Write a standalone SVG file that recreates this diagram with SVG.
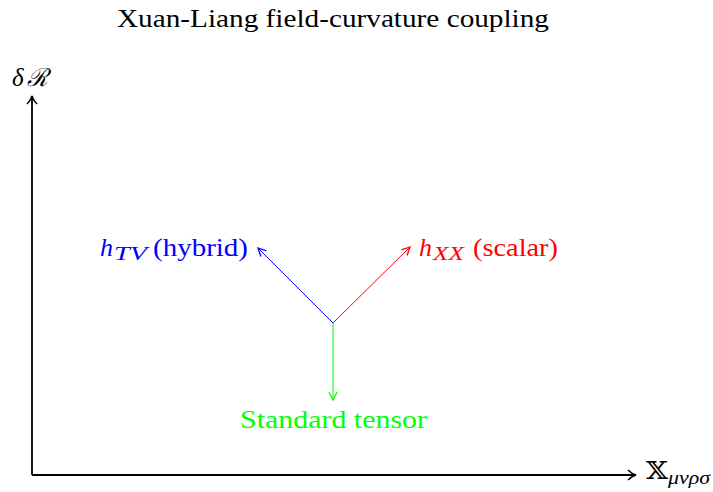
<svg xmlns="http://www.w3.org/2000/svg" width="713" height="492" viewBox="0 0 713 492">
<style>
text{font-family:"Liberation Serif","DejaVu Serif",serif;font-size:25px}
.it{font-style:italic}
.sub{font-style:italic;font-size:18px}
.ax{stroke:#000;stroke-width:1.8;fill:none}
</style>
<defs>
<marker id="ah" viewBox="0 0 10 10" refX="9" refY="5" markerWidth="10" markerHeight="10" markerUnits="userSpaceOnUse" orient="auto">
<path d="M1,1 L9,5 L1,9" fill="none" stroke="context-stroke" stroke-width="1.3"/>
</marker>
<marker id="axh" viewBox="0 0 12 12" refX="10" refY="6" markerWidth="12" markerHeight="12" markerUnits="userSpaceOnUse" orient="auto">
<path d="M2,1 Q6,5 10,6 Q6,7 2,11" fill="none" stroke="#000" stroke-width="1.6"/>
</marker>
</defs>
<text x="117" y="27" textLength="432" lengthAdjust="spacingAndGlyphs">Xuan-Liang field-curvature coupling</text>
<g id="axes">
<path class="ax" d="M32,475 L32,96" marker-end="url(#axh)"/>
<path class="ax" d="M32,475 L636,475" marker-end="url(#axh)"/>
<text x="12" y="86" class="it">δ</text>
<text x="27" y="86" class="it" textLength="21" lengthAdjust="spacingAndGlyphs">ℛ</text>
<text x="646" y="479" textLength="22" lengthAdjust="spacingAndGlyphs">𝕏</text>
<text x="668" y="484" class="sub" textLength="42" lengthAdjust="spacingAndGlyphs">μνρσ</text>
</g>
<g id="connectors" fill="none" stroke-width="1">
<line x1="333" y1="323" x2="258" y2="248" stroke="#00f" marker-end="url(#ah)"/>
<line x1="333" y1="323" x2="410" y2="247" stroke="#f00" marker-end="url(#ah)"/>
<line x1="333" y1="323" x2="333" y2="400" stroke="#0f0" marker-end="url(#ah)"/>
</g>
<g id="hybrid" fill="#00f">
<text x="100" y="256" class="it" textLength="13" lengthAdjust="spacingAndGlyphs">h</text>
<text x="114" y="260" class="sub" textLength="33" lengthAdjust="spacingAndGlyphs">TV</text>
<text x="153" y="256" textLength="95" lengthAdjust="spacingAndGlyphs">(hybrid)</text>
</g>
<g id="scalar" fill="#f00">
<text x="419" y="256" class="it" textLength="13" lengthAdjust="spacingAndGlyphs">h</text>
<text x="433" y="260" class="sub" textLength="31" lengthAdjust="spacingAndGlyphs">XX</text>
<text x="473" y="256" textLength="85" lengthAdjust="spacingAndGlyphs">(scalar)</text>
</g>
<g id="tensor" fill="#0f0">
<text x="240" y="428" textLength="187" lengthAdjust="spacingAndGlyphs">Standard tensor</text>
</g>
</svg>
